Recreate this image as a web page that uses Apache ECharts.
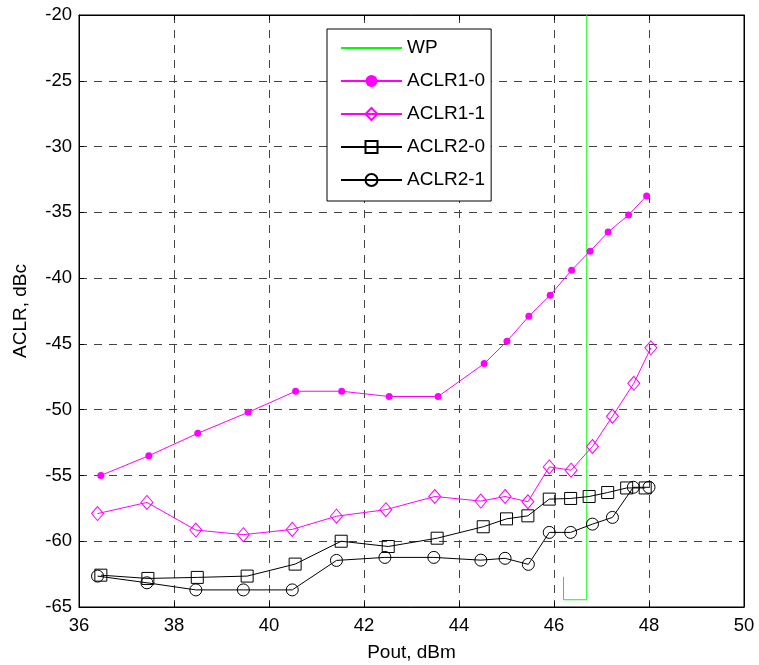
<!DOCTYPE html>
<html>
<head>
<meta charset="utf-8">
<script src="https://cdn.jsdelivr.net/npm/echarts@6/dist/echarts.min.js"></script>
<style>
  html, body { margin: 0; padding: 0; background: #fff; }
  #chart { width: 759px; height: 665px; }
</style>
</head>
<body>
<div id="chart"></div>
<script>
// Axis ranges and ticks
const xTicks = [36, 38, 40, 42, 44, 46, 48, 50];
const yTicks = [-65, -60, -55, -50, -45, -40, -35, -30, -25, -20];

// Working point marker (Pout, dBm / level)
const wpPout = [46.2, 46.2, 46.69, 46.69];
const wpLevel = [-62.7, -64.45, -64.45, -20];

// ACLR1-0
const aclr10Pout = [36.46, 37.47, 38.5, 39.56, 40.56, 41.53, 42.53, 43.56, 44.53, 45.01, 45.47, 45.92, 46.37, 46.76, 47.14, 47.57, 47.95];
const aclr10 = [-55.0, -53.5, -51.8, -50.2, -48.6, -48.6, -49.0, -49.0, -46.5, -44.8, -42.9, -41.3, -39.4, -37.95, -36.5, -35.2, -33.75];

// ACLR1-1
const aclr11Pout = [36.39, 37.43, 38.46, 39.46, 40.49, 41.42, 42.46, 43.49, 44.46, 44.97, 45.45, 45.9, 46.36, 46.81, 47.23, 47.68, 48.04];
const aclr11 = [-57.9, -57.05, -59.15, -59.5, -59.1, -58.1, -57.6, -56.6, -56.95, -56.6, -57.0, -54.35, -54.6, -52.8, -50.5, -48.0, -45.3];

// ACLR2-0
const aclr20Pout = [36.46, 37.45, 38.49, 39.54, 40.55, 41.52, 42.51, 43.54, 44.51, 45.0, 45.45, 45.9, 46.35, 46.74, 47.13, 47.53, 47.92];
const aclr20 = [-62.58, -62.83, -62.75, -62.65, -61.74, -60.0, -60.4, -59.77, -58.9, -58.3, -58.07, -56.8, -56.75, -56.6, -56.3, -55.95, -55.95];

// ACLR2-1
const aclr21Pout = [36.39, 37.43, 38.46, 39.46, 40.49, 41.42, 42.44, 43.47, 44.46, 44.97, 45.46, 45.9, 46.35, 46.81, 47.23, 47.67, 48.0];
const aclr21 = [-62.65, -63.16, -63.7, -63.7, -63.7, -61.46, -61.23, -61.23, -61.44, -61.3, -61.76, -59.33, -59.33, -58.7, -58.19, -55.9, -55.9];

const FONT = "'Liberation Sans', Arial, sans-serif";
const pairs = (xs, ys) => xs.map((x, i) => [x, ys[i]]);

const chart = echarts.init(document.getElementById('chart'), null, { renderer: 'canvas' });

const gridLine = { show: true, lineStyle: { color: '#444', width: 1, type: [8, 7] } };
const tickIn = { show: true, inside: true, length: 5, lineStyle: { color: '#000', width: 1 } };
const blackLine = { show: true, onZero: false, lineStyle: { color: '#000', width: 1 } };

chart.setOption({
  animation: false,
  backgroundColor: '#fff',
  textStyle: { fontFamily: FONT },
  grid: {
    left: 79, right: 15, top: 15, bottom: 58,
    outerBoundsMode: 'none', containLabel: false,
    show: true, borderColor: '#000', borderWidth: 1, backgroundColor: '#fff'
  },
  xAxis: [
    {
      type: 'value', min: xTicks[0], max: xTicks[xTicks.length - 1], interval: 2,
      axisLine: blackLine, axisTick: tickIn, splitLine: gridLine,
      axisLabel: { color: '#000', fontSize: 18.5, fontFamily: FONT, margin: 9 },
      name: 'Pout, dBm', nameLocation: 'middle', nameGap: 36,
      nameTextStyle: { color: '#000', fontSize: 19, fontFamily: FONT }
    },
    {
      type: 'value', position: 'top', min: xTicks[0], max: xTicks[xTicks.length - 1], interval: 2,
      axisLine: blackLine, axisTick: tickIn, splitLine: { show: false }, axisLabel: { show: false }
    }
  ],
  yAxis: [
    {
      type: 'value', min: yTicks[0], max: yTicks[yTicks.length - 1], interval: 5,
      axisLine: blackLine, axisTick: tickIn, splitLine: gridLine,
      axisLabel: { color: '#000', fontSize: 18.5, fontFamily: FONT, margin: 7 },
      name: 'ACLR, dBc', nameLocation: 'middle', nameGap: 49, nameRotate: 90,
      nameTextStyle: { color: '#000', fontSize: 19, fontFamily: FONT }
    },
    {
      type: 'value', position: 'right', min: yTicks[0], max: yTicks[yTicks.length - 1], interval: 5,
      axisLine: blackLine, axisTick: tickIn, splitLine: { show: false }, axisLabel: { show: false }
    }
  ],
  legend: {
    orient: 'vertical', left: 327, top: 29,
    padding: [9, 6, 11, 13],
    itemWidth: 61, itemHeight: 15, itemGap: 13,
    borderColor: '#000', borderWidth: 1, backgroundColor: '#fff',
    textStyle: { color: '#000', fontSize: 19, fontFamily: FONT, lineHeight: 20 },
    data: ['WP', 'ACLR1-0', 'ACLR1-1', 'ACLR2-0', 'ACLR2-1']
  },
  series: [
    {
      name: 'WP', type: 'line', symbol: 'none', z: 1,
      lineStyle: { color: '#00ff00', width: 1 }, itemStyle: { color: 'rgba(0,0,0,0)' },
      data: pairs(wpPout, wpLevel)
    },
    {
      name: 'ACLR1-0', type: 'line', symbol: 'circle', symbolSize: 7, z: 3,
      lineStyle: { color: '#ff00ff', width: 1 }, itemStyle: { color: '#ff00ff' },
      data: pairs(aclr10Pout, aclr10)
    },
    {
      name: 'ACLR1-1', type: 'line', symbol: 'diamond', symbolSize: [12, 14], z: 3,
      lineStyle: { color: '#ff00ff', width: 1 },
      itemStyle: { color: 'rgba(0,0,0,0)', borderColor: '#ff00ff', borderWidth: 1 },
      data: pairs(aclr11Pout, aclr11)
    },
    {
      name: 'ACLR2-0', type: 'line', symbol: 'rect', symbolSize: 12, z: 3,
      lineStyle: { color: '#000', width: 1 },
      itemStyle: { color: 'rgba(0,0,0,0)', borderColor: '#000', borderWidth: 1 },
      data: pairs(aclr20Pout, aclr20)
    },
    {
      name: 'ACLR2-1', type: 'line', symbol: 'circle', symbolSize: 12, z: 3,
      lineStyle: { color: '#000', width: 1 },
      itemStyle: { color: 'rgba(0,0,0,0)', borderColor: '#000', borderWidth: 1 },
      data: pairs(aclr21Pout, aclr21)
    }
  ]
});
</script>
</body>
</html>
